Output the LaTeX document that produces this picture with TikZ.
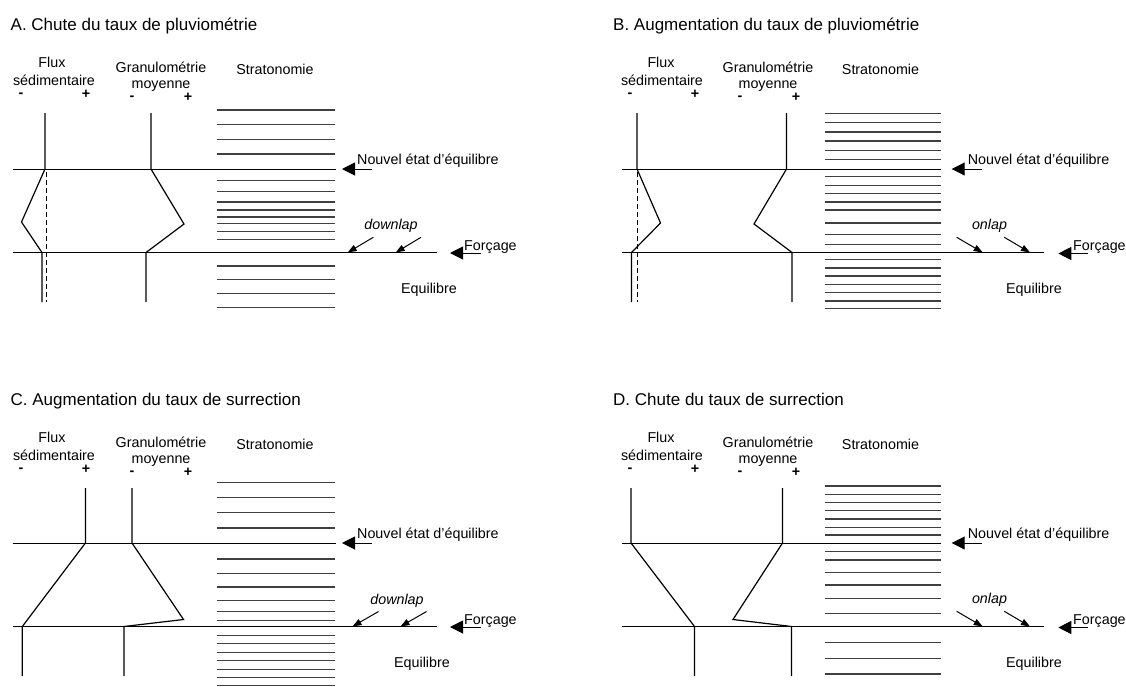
\documentclass[tikz,border=0pt]{standalone}
\usepackage{fontspec}
\setmainfont{Liberation Sans}
\usetikzlibrary{arrows.meta}
\newcommand{\labfont}{\fontsize{14.3}{17}\selectfont}
\newcommand{\ttlfont}{\fontsize{17}{20}\selectfont}
\begin{document}
\begin{tikzpicture}[x=1pt,y=-1pt,
  thinline/.style={line width=0.9pt,black},
  prof/.style={line width=1.2pt,black,line join=miter},
  dashprof/.style={line width=1pt,black,dash pattern=on 5pt off 3pt},
  strat/.style={line width=1.4pt,black!75},
  bigarrow/.style={line width=1pt,-{Triangle[length=13pt,width=13pt]}},
  smallarrow/.style={line width=1pt,-{Triangle[length=9pt,width=6.5pt]}},
  lab/.style={font=\labfont,anchor=base,inner sep=0pt},
  ttl/.style={font=\ttlfont,anchor=base west,inner sep=0pt},
  note/.style={font=\labfont,anchor=base west,inner sep=0pt},
  sign/.style={font=\labfont\bfseries,anchor=base,inner sep=0pt}]
\useasboundingbox[fill=white] (0,0) rectangle (1126,686);

% ================= PANEL A =================
\node[ttl] (tA) at (10.5,30.5) {A. Chute du taux de pluviométrie};
\node[lab] (fA1) at (52,67) {Flux};
\node[lab] (fA2) at (54,85) {sédimentaire};
\node[sign] (fAm) at (21,97.3) {-};
\node[sign] (fAp) at (86,98) {+};
\node[lab] (gA1) at (161,72) {Granulométrie};
\node[lab] (gA2) at (161,88) {moyenne};
\node[sign] (gAm) at (132,100.5) {-};
\node[sign] (gAp) at (188,101) {+};
\node[lab] (sA) at (275,74) {Stratonomie};
\foreach \yy in {110,124.7,139.3,154,180.3,191.7,202,210,217,223.3,231.3,239.3,266,279.7,293.7,307.3}
  \draw[strat] (217,\yy) -- (334.5,\yy);
\draw[thinline] (12.5,169) -- (336,169);
\draw[thinline] (12.5,252.5) -- (437,252.5);
\draw[prof] (45,113) -- (45,169) -- (21.5,222) -- (42,252.5) -- (42,302);
\draw[dashprof] (46,172) -- (46,302);
\draw[prof] (151,113) -- (151,169) -- (184,224) -- (146,252.5) -- (146,302);
\coordinate (nAt) at (372,169); \coordinate (nAh) at (342,169);
\draw[bigarrow] (nAt) -- (nAh);
\node[note] (nA) at (357,164) {Nouvel état d'équilibre};
\coordinate (fcAt) at (481,253); \coordinate (fcAh) at (450,253);
\draw[bigarrow] (fcAt) -- (fcAh);
\node[note] (fcA) at (464,250) {Forçage};
\coordinate (dA1t) at (373.3,237.3); \coordinate (dA1h) at (347.7,252.5);
\coordinate (dA2t) at (421,237.3); \coordinate (dA2h) at (395.7,252.5);
\draw[smallarrow] (dA1t) -- (dA1h);
\draw[smallarrow] (dA2t) -- (dA2h);
\node[lab,font=\labfont\itshape] (dA) at (391,229) {downlap};
\node[lab] (eA) at (429,293) {Equilibre};

% ================= PANEL B =================
\node[ttl] (tB) at (613,30.5) {B. Augmentation du taux de pluviométrie};
\node[lab] (fB1) at (661,67) {Flux};
\node[lab] (fB2) at (662,85) {sédimentaire};
\node[sign] (fBm) at (630,97.3) {-};
\node[sign] (fBp) at (695,98) {+};
\node[lab] (gB1) at (768,72) {Granulométrie};
\node[lab] (gB2) at (768,88) {moyenne};
\node[sign] (gBm) at (740,100.5) {-};
\node[sign] (gBp) at (796,101) {+};
\node[lab] (sB) at (880.5,74) {Stratonomie};
\foreach \yy in {113.3,122.7,132,141,150.5,159.7,176.7,185.3,193.5,201.8,210,223,234.5,244.5,259.7,267.8,276,284.3,292.5,300.8,308.7}
  \draw[strat] (825,\yy) -- (940.5,\yy);
\draw[thinline] (622,169) -- (941,169);
\draw[thinline] (622,252.5) -- (1044,252.5);
\draw[prof] (637,113) -- (637,169) -- (660.5,223) -- (631.5,252.5) -- (631.5,302);
\draw[dashprof] (637,172) -- (637,302);
\draw[prof] (786.5,113) -- (786.5,169) -- (754,224) -- (792,252.5) -- (792,302);
\coordinate (nBt) at (981.7,169); \coordinate (nBh) at (951.7,169);
\draw[bigarrow] (nBt) -- (nBh);
\node[note] (nB) at (967.7,164) {Nouvel état d'équilibre};
\coordinate (fcBt) at (1088,253.5); \coordinate (fcBh) at (1058.3,253.5);
\draw[bigarrow] (fcBt) -- (fcBh);
\node[note] (fcB) at (1073,250) {Forçage};
\coordinate (oB1t) at (956.7,237.3); \coordinate (oB1h) at (982.7,252.5);
\coordinate (oB2t) at (1004.3,237.3); \coordinate (oB2h) at (1030,252.5);
\draw[smallarrow] (oB1t) -- (oB1h);
\draw[smallarrow] (oB2t) -- (oB2h);
\node[lab,font=\labfont\itshape] (oB) at (989.5,229) {onlap};
\node[lab] (eB) at (1034,293) {Equilibre};

% ================= PANEL C =================
\node[ttl] (tC) at (10.5,405.5) {C. Augmentation du taux de surrection};
\node[lab] (fC1) at (52,442) {Flux};
\node[lab] (fC2) at (54,460) {sédimentaire};
\node[sign] (fCm) at (21,472.3) {-};
\node[sign] (fCp) at (86,473) {+};
\node[lab] (gC1) at (161,447) {Granulométrie};
\node[lab] (gC2) at (161,463) {moyenne};
\node[sign] (gCm) at (132,475.5) {-};
\node[sign] (gCp) at (188,476) {+};
\node[lab] (sC) at (275,449) {Stratonomie};
\foreach \yy in {482.3,497.3,512.7,528,559,573.3,587,600.3,611.7,620.7,635.3,643.7,652.3,660.7,669.3,677.7,685.3}
  \draw[strat] (217,\yy) -- (334.5,\yy);
\draw[thinline] (12.5,543) -- (336,543);
\draw[thinline] (12.5,626.5) -- (437,626.5);
\draw[prof] (85.4,488) -- (85.4,543) -- (22.3,626.5) -- (22.3,676);
\draw[prof] (132,488) -- (132,543) -- (183.5,619.5) -- (124,626.5) -- (124,676);
\coordinate (nCt) at (372,543); \coordinate (nCh) at (342,543);
\draw[bigarrow] (nCt) -- (nCh);
\node[note] (nC) at (357,538) {Nouvel état d'équilibre};
\coordinate (fcCt) at (481,627); \coordinate (fcCh) at (450,627);
\draw[bigarrow] (fcCt) -- (fcCh);
\node[note] (fcC) at (464,624) {Forçage};
\coordinate (dC1t) at (378.5,611.5); \coordinate (dC1h) at (352.5,626.5);
\coordinate (dC2t) at (426.5,611.5); \coordinate (dC2h) at (400.5,626.5);
\draw[smallarrow] (dC1t) -- (dC1h);
\draw[smallarrow] (dC2t) -- (dC2h);
\node[lab,font=\labfont\itshape] (dC) at (397,604) {downlap};
\node[lab] (eC) at (422,667) {Equilibre};

% ================= PANEL D =================
\node[ttl] (tD) at (613,405.5) {D. Chute du taux de surrection};
\node[lab] (fD1) at (661,442) {Flux};
\node[lab] (fD2) at (662,460) {sédimentaire};
\node[sign] (fDm) at (630,472.3) {-};
\node[sign] (fDp) at (695,473) {+};
\node[lab] (gD1) at (768,447) {Granulométrie};
\node[lab] (gD2) at (768,463) {moyenne};
\node[sign] (gDm) at (740,475.5) {-};
\node[sign] (gDp) at (796,476) {+};
\node[lab] (sD) at (880.5,449) {Stratonomie};
\foreach \yy in {486,494.3,502.7,510.7,519,527.3,535,551.7,560,572.3,585,598.3,613.3,642.7,658.3,674}
  \draw[strat] (825,\yy) -- (940.5,\yy);
\draw[thinline] (622,543) -- (941,543);
\draw[thinline] (622,626.5) -- (1044,626.5);
\draw[prof] (631,488) -- (631,543) -- (694.5,626.5) -- (694.5,676);
\draw[prof] (782.5,488) -- (782.5,543) -- (733,619.5) -- (791.5,626.5) -- (791.5,676);
\coordinate (nDt) at (981.7,543); \coordinate (nDh) at (951.7,543);
\draw[bigarrow] (nDt) -- (nDh);
\node[note] (nD) at (967.7,538) {Nouvel état d'équilibre};
\coordinate (fcDt) at (1088,627.5); \coordinate (fcDh) at (1058.3,627.5);
\draw[bigarrow] (fcDt) -- (fcDh);
\node[note] (fcD) at (1073,624) {Forçage};
\coordinate (oD1t) at (956.7,611.3); \coordinate (oD1h) at (982.7,626.5);
\coordinate (oD2t) at (1004.3,611.3); \coordinate (oD2h) at (1030,626.5);
\draw[smallarrow] (oD1t) -- (oD1h);
\draw[smallarrow] (oD2t) -- (oD2h);
\node[lab,font=\labfont\itshape] (oD) at (989.5,603) {onlap};
\node[lab] (eD) at (1034,667) {Equilibre};
\end{tikzpicture}
\end{document}
